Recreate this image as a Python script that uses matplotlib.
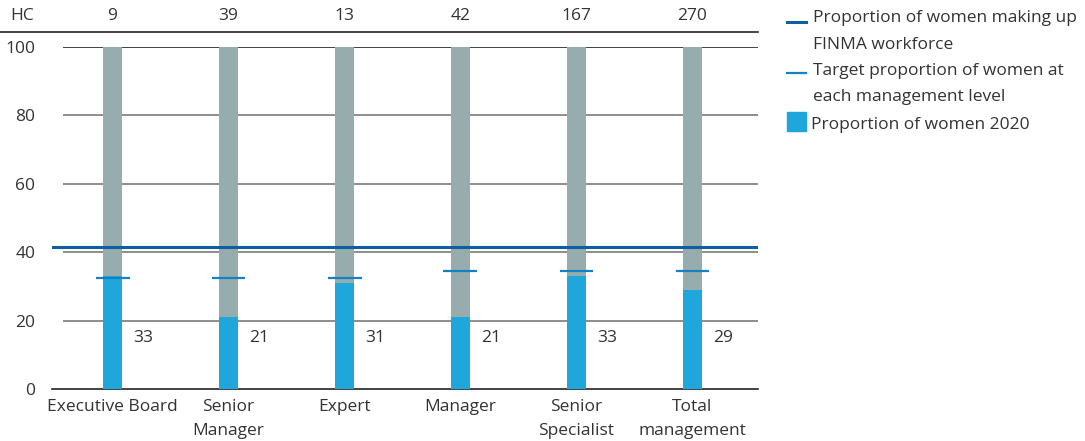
import matplotlib.pyplot as plt
from matplotlib.lines import Line2D
from matplotlib.patches import Rectangle

plt.rcParams['font.family'] = ['Open Sans', 'DejaVu Sans']

# data
categories = ['Executive Board', 'Senior\nManager', 'Expert', 'Manager',
              'Senior\nSpecialist', 'Total\nmanagement']
headcount = [9, 39, 13, 42, 167, 270]
women_2020 = [33, 21, 31, 21, 33, 29]
target = [32.5, 32.5, 32.5, 34.5, 34.5, 34.5]
workforce = 41.5
total = 100

C_GREY = '#97adad'
C_BLUE = '#1fa7dc'
C_WORK = '#0d5fa3'
C_TARGET = '#1581c5'
C_TEXT = '#333333'
FS = 12.5

W, H = 1085, 441
fig = plt.figure(figsize=(W / 100, H / 100), dpi=100)
ax = fig.add_axes([52 / W, (H - 389) / H, 706 / W, 342 / H])

x = list(range(len(categories)))
bw = 19 / 116
ax.bar(x, [total] * len(x), width=bw, color=C_GREY, zorder=2)
ax.bar(x, women_2020, width=bw, color=C_BLUE, zorder=3)

xl = (52 - 112.5) / 116
xr = (758 - 112.5) / 116
ax.set_xlim(xl, xr)
ax.set_ylim(0, 100)

# grid lines
gx0 = (63 - 112.5) / 116
for v in [20, 40, 60, 80]:
    ax.hlines(v, gx0, xr, color='#7a7a7a', lw=1.2, zorder=1)
ax.hlines(100, gx0, xr, color='#222222', lw=1.2, zorder=1)

# workforce line
ax.axhline(workforce, color=C_WORK, lw=2.2, zorder=4)

# target marks
tw = 34 / 116
for xi, t in zip(x, target):
    ax.hlines(t, xi - tw / 2, xi + tw / 2, color=C_TARGET, lw=1.6, zorder=4)

# value labels
for xi, v in zip(x, women_2020):
    ax.text(xi + 0.18, 15, str(v), ha='left', va='center', fontsize=FS, color=C_TEXT)

# headcount row
hc_y = 100 + (47 - 16) / 3.42
for xi, h in zip(x, headcount):
    ax.text(xi, hc_y, str(h), ha='center', va='center', fontsize=FS, color=C_TEXT, clip_on=False)
fig.text(10 / W, 1 - 16 / H, 'HC', ha='left', va='center', fontsize=FS, color=C_TEXT)
fig.add_artist(Line2D([0, 758 / W], [1 - 32 / H, 1 - 32 / H], color='#222222', lw=1.2))

for s in ['top', 'right', 'left']:
    ax.spines[s].set_visible(False)
ax.spines['bottom'].set_color('#222222')
ax.spines['bottom'].set_linewidth(1.2)

ax.set_yticks([0, 20, 40, 60, 80, 100])
ax.tick_params(axis='y', length=0, pad=12, labelsize=FS, labelcolor=C_TEXT)
ax.set_xticks(x)
ax.set_xticklabels(categories, linespacing=1.65)
ax.tick_params(axis='x', length=0, pad=7, labelsize=FS, labelcolor=C_TEXT)

# legend
lx0, lx1 = 787 / W, 806 / W
fig.add_artist(Line2D([lx0, lx1], [1 - 22 / H] * 2, color=C_WORK, lw=2.2))
fig.add_artist(Line2D([lx0, lx1], [1 - 73 / H] * 2, color=C_TARGET, lw=1.6))
fig.add_artist(Rectangle((lx0, 1 - 131 / H), 19 / W, 19 / H, color=C_BLUE,
                         transform=fig.transFigure))
fig.text(813 / W, 1 - 31.5 / H, 'Proportion of women making up\nFINMA workforce',
         ha='left', va='center', fontsize=FS, color=C_TEXT, linespacing=1.85)
fig.text(813 / W, 1 - 84 / H, 'Target proportion of women at\neach management level',
         ha='left', va='center', fontsize=FS, color=C_TEXT, linespacing=1.85)
fig.text(811 / W, 1 - 125 / H, 'Proportion of women 2020',
         ha='left', va='center', fontsize=FS, color=C_TEXT)

fig.savefig('out.png', dpi=100)
